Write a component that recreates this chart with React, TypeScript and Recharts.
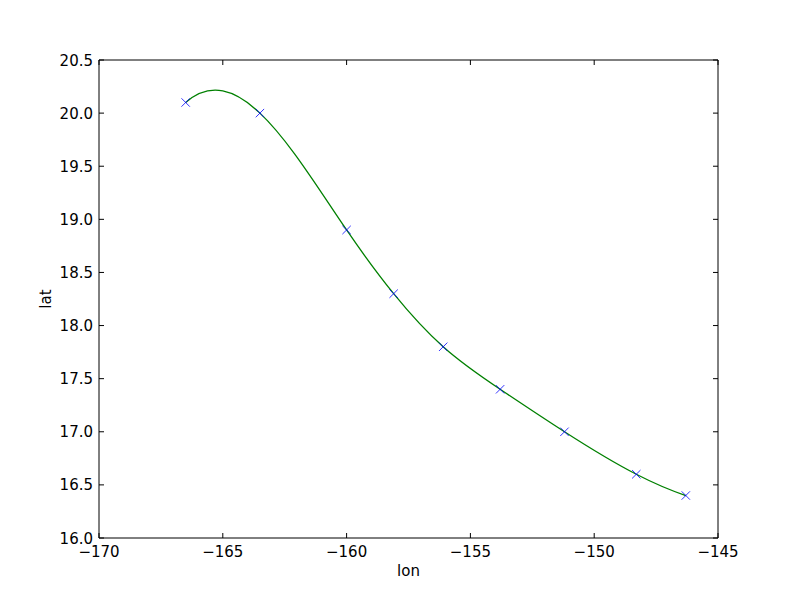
import { ComposedChart, Line, Scatter, XAxis, YAxis } from 'recharts';

// storm track positions
const lons = [-166.5, -163.5, -160.0, -158.1, -156.1, -153.8, -151.2, -148.3, -146.3];
const lats = [20.1, 20.0, 18.9, 18.3, 17.8, 17.4, 17.0, 16.6, 16.4];

const lonTicks = [-170, -165, -160, -155, -150, -145];
const latTicks = [16.0, 16.5, 17.0, 17.5, 18.0, 18.5, 19.0, 19.5, 20.0, 20.5];

const track = lons.map((lon, i) => ({ lon, lat: lats[i] }));

const FONT = '"DejaVu Sans", sans-serif';
const TICK = 5;

const fmtLon = (v: number) => (v < 0 ? '\u2212' + Math.abs(v) : String(v));

// cubic spline y(x), not-a-knot ends, drawn as bezier segments between the given points
const splineCurve = (ctx: any) => {
  let xs: number[] = [];
  let ys: number[] = [];
  return {
    areaStart() {},
    areaEnd() {},
    lineStart() {
      xs = [];
      ys = [];
    },
    point(x: number, y: number) {
      xs.push(+x);
      ys.push(+y);
    },
    lineEnd() {
      const n = xs.length;
      if (n === 0) return;
      ctx.moveTo(xs[0], ys[0]);
      if (n < 4) {
        for (let i = 1; i < n; i++) ctx.lineTo(xs[i], ys[i]);
        return;
      }
      const h = xs.slice(1).map((x, i) => x - xs[i]);
      const A: number[][] = [];
      const b: number[] = [];
      const row = () => new Array(n).fill(0);
      let r = row();
      r[0] = h[1];
      r[1] = -(h[0] + h[1]);
      r[2] = h[0];
      A.push(r);
      b.push(0);
      for (let i = 1; i < n - 1; i++) {
        r = row();
        r[i - 1] = h[i - 1];
        r[i] = 2 * (h[i - 1] + h[i]);
        r[i + 1] = h[i];
        A.push(r);
        b.push(6 * ((ys[i + 1] - ys[i]) / h[i] - (ys[i] - ys[i - 1]) / h[i - 1]));
      }
      r = row();
      r[n - 3] = h[n - 2];
      r[n - 2] = -(h[n - 3] + h[n - 2]);
      r[n - 1] = h[n - 3];
      A.push(r);
      b.push(0);
      // gaussian elimination with pivoting
      for (let c = 0; c < n; c++) {
        let p = c;
        for (let k = c + 1; k < n; k++) if (Math.abs(A[k][c]) > Math.abs(A[p][c])) p = k;
        [A[c], A[p]] = [A[p], A[c]];
        [b[c], b[p]] = [b[p], b[c]];
        for (let k = c + 1; k < n; k++) {
          const f = A[k][c] / A[c][c];
          for (let j = c; j < n; j++) A[k][j] -= f * A[c][j];
          b[k] -= f * b[c];
        }
      }
      const M = new Array(n).fill(0);
      for (let c = n - 1; c >= 0; c--) {
        let s = b[c];
        for (let j = c + 1; j < n; j++) s -= A[c][j] * M[j];
        M[c] = s / A[c][c];
      }
      for (let i = 0; i < n - 1; i++) {
        const d = (ys[i + 1] - ys[i]) / h[i];
        const m0 = d - (h[i] * (2 * M[i] + M[i + 1])) / 6;
        const m1 = d + (h[i] * (M[i] + 2 * M[i + 1])) / 6;
        ctx.bezierCurveTo(
          xs[i] + h[i] / 3,
          ys[i] + (h[i] * m0) / 3,
          xs[i + 1] - h[i] / 3,
          ys[i + 1] - (h[i] * m1) / 3,
          xs[i + 1],
          ys[i + 1]
        );
      }
    },
  };
};

const BottomTick = (props: any) => {
  const { x, y, payload } = props;
  return (
    <g>
      <line x1={x} x2={x} y1={y} y2={y - TICK} stroke="#000" />
      <text x={x} y={y + 19} textAnchor="middle" fontSize={15} fontFamily={FONT} fill="#000">
        {fmtLon(payload.value)}
      </text>
    </g>
  );
};

const LeftTick = (props: any) => {
  const { x, y, payload } = props;
  return (
    <g>
      <line x1={x} x2={x + TICK} y1={y} y2={y} stroke="#000" />
      <text x={x - 6} y={y + 5.5} textAnchor="end" fontSize={15} fontFamily={FONT} fill="#000">
        {Number(payload.value).toFixed(1)}
      </text>
    </g>
  );
};

const TopTick = (props: any) => {
  const { x, y } = props;
  return <line x1={x} x2={x} y1={y} y2={y + TICK} stroke="#000" />;
};

const RightTick = (props: any) => {
  const { x, y } = props;
  return <line x1={x} x2={x - TICK} y1={y} y2={y} stroke="#000" />;
};

const XMark = (props: any) => {
  const { cx, cy } = props;
  const r = 4.2;
  return (
    <path
      d={`M${cx - r},${cy - r}L${cx + r},${cy + r}M${cx - r},${cy + r}L${cx + r},${cy - r}`}
      stroke="#0000ff"
      strokeWidth={0.8}
      fill="none"
    />
  );
};

const axisLine = { stroke: '#000', strokeWidth: 1 };

export default function App() {
  return (
    <div style={{ position: 'absolute', left: 0, top: 0, width: 800, height: 600, background: '#fff' }}>
      <ComposedChart width={800} height={600} data={track} margin={{ top: 59, right: 81, bottom: 0, left: 0 }}>
        <XAxis
          xAxisId="bottom"
          dataKey="lon"
          type="number"
          domain={[-170, -145]}
          allowDataOverflow
          ticks={lonTicks}
          interval={0}
          height={62}
          tickSize={0}
          tickMargin={0}
          tickLine={false}
          axisLine={axisLine}
          tick={BottomTick}
          label={{ value: 'lon', position: 'insideBottom', offset: 24, fontSize: 15, fontFamily: FONT, fill: '#000' }}
        />
        <XAxis
          xAxisId="top"
          orientation="top"
          dataKey="lon"
          type="number"
          domain={[-170, -145]}
          allowDataOverflow
          ticks={lonTicks}
          interval={0}
          height={1}
          tickSize={0}
          tickMargin={0}
          tickLine={false}
          axisLine={axisLine}
          tick={TopTick}
        />
        <YAxis
          yAxisId="left"
          type="number"
          domain={[16, 20.5]}
          allowDataOverflow
          ticks={latTicks}
          interval={0}
          width={99}
          tickSize={0}
          tickMargin={0}
          tickLine={false}
          axisLine={axisLine}
          tick={LeftTick}
          label={{ value: 'lat', angle: -90, position: 'center', dx: -4, fontSize: 15, fontFamily: FONT, fill: '#000' }}
        />
        <YAxis
          yAxisId="right"
          orientation="right"
          type="number"
          domain={[16, 20.5]}
          allowDataOverflow
          ticks={latTicks}
          interval={0}
          width={1}
          tickSize={0}
          tickMargin={0}
          tickLine={false}
          axisLine={axisLine}
          tick={RightTick}
        />
        {/* invisible series so the top/right frame axes get drawn */}
        <Line
          xAxisId="top"
          yAxisId="right"
          dataKey="lat"
          stroke="none"
          dot={false}
          activeDot={false}
          isAnimationActive={false}
        />
        <Scatter xAxisId="bottom" yAxisId="left" dataKey="lat" shape={XMark} isAnimationActive={false} />
        <Line
          xAxisId="bottom"
          yAxisId="left"
          dataKey="lat"
          type={splineCurve as any}
          stroke="#008000"
          strokeWidth={1.3}
          dot={false}
          activeDot={false}
          isAnimationActive={false}
        />
      </ComposedChart>
    </div>
  );
}
